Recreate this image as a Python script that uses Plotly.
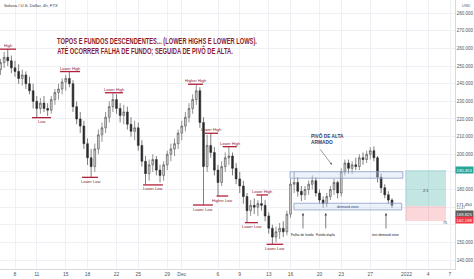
import plotly.graph_objects as go
import pandas as pd
from datetime import datetime, timedelta

# ---------------- data (12h candles, SOL/USD) ----------------
opens = [248,252,255,253,249,247,243,245,240,236, 230,226,229,226,225,231,235,237,241,243,
         240,227,220,216,206,198,193,203,211,215, 221,227,231,226,222,224,217,213,215,205,
         196,189,194,197,191,188,194,200,203,206, 212,216,221,226,231,236,218,193,205,201,
         191,184,193,198,199,192,186,182,176,168, 171,170,172,171,165,158,153,156,158,156,
         166,183,184,179,177,180,183,185,178,174, 172,176,180,184,178,190,195,192,194,193,
         198,197,200,202,198,187,181,177,174]
highs = [254,258,259.6,256,253,251,248,247,244,240, 233,232,233,229,233,237,240,243,245,247,
         242,230,224,219,209,203,206,214,218,224, 230,235,234,229,228,227,221,219,218,208,
         199,197,200,199,194,196,202,206,209,214, 219,224,229,234,239.7,238,221,211,211.9,204,
         194,196,201,204.3,201,195,190,185,178,174, 175,174,176.9,174,167,160,159,161,162,168,
         186,190,187,182,182,185,188,187,180,176, 178,182,186,185,192,197,197,196,198,200,
         201,202,204,204.5,199,189,183,179,175]
lows = [245,249,250,246,244,240,239,237,234,226, 220.7,223,224,221.7,223,228,231,234,236,238,
        224,217,212,203,194,187,190,200,207,212, 218,224,223,218,217,214,210,208,202,193,
        183,185,190,188,184,185,191,196,199,203, 208,213,218,223,228,215,171,190,198,188,
        176.3,182,190,194,188,183,178,172,161.2,165, 166,165,168,162,155,148.9,150,152,153,154,
        164,178,176,173.5,174,177,180,176,172,169.6, 170,174,177,175,176,188,189,189,191,191,
        194,195,197,196,184,178,175,172,169.5]
closes = [252,255,253,249,247,243,245,240,236,230, 226,229,226,225,231,235,237,241,243,240,
          227,220,216,206,198,193,203,211,215,221, 227,231,226,222,224,217,213,215,205,196,
          189,194,197,191,188,194,200,203,206,212, 216,221,226,231,236,218,193,205,201,191,
          184,193,198,199,192,186,182,176,168,171, 170,172,171,165,158,153,156,158,156,166,
          183,184,179,177,180,183,185,178,174,172, 176,180,184,178,190,195,192,194,193,198,
          197,200,202,198,187,181,177,174,171]
times = pd.date_range("2021-11-06 00:00", periods=len(closes), freq="12h")

tick_dates = ["2021-11-08","2021-11-11","2021-11-15","2021-11-18","2021-11-22","2021-11-25",
              "2021-11-29","2021-12-01","2021-12-06","2021-12-09","2021-12-13","2021-12-16",
              "2021-12-20","2021-12-23","2021-12-27","2022-01-01","2022-01-04","2022-01-07"]
tick_text = ["8","11","15","18","22","25","29","Dec","6","9","13","16","20","23","27","2022","4","7"]
price_ticks = list(range(140, 290, 10))
hidden_ticks = [160, 170, 190]   # covered by the price labels on the scale

# swing levels: label, start day, end day (days from 8 Nov), price, above?
lvl_label = ["High","Lower High","Low","Lower High","Lower Low","Lower Low","Higher High",
             "Lower High","Lower High","Lower Low","Higher Low","Lower Low","Lower High","Lower Low"]
lvl_d0 = [-2.1, 6.2, 2.34, 12.4, 9.24, 17.66, 23.86, 26.2, 28.65, 24.55, 27.8, 31.7, 33.3, 34.7]
lvl_d1 = [0.14, 8.97, 4.97, 14.9, 11.45, 20.4, 25.93, 28.0, 30.6, 27.3, 29.4, 33.5, 34.9, 37.0]
lvl_price = [259.6, 246.9, 220.75, 234.9, 186.9, 182.6, 239.7, 211.9, 204.3, 171.2, 176.3, 161.2, 176.9, 148.9]
lvl_up = [True, True, False, True, False, False, True, True, True, False, False, False, True, False]

# zones
pivot_zone = (37.93, 53.5, 186.4, 190.1)
demand_zone = (38.48, 53.34, 168.4, 172.2)
# position tool: start, end, target, entry, stop
pos_d0, pos_d1 = 53.8, 59.45
pos_target, pos_entry, pos_stop = 191.0, 170.6, 162.2

arrow_days = [39.72, 42.86, 51.17]
arrow_text = ["Falha de fundo", "Fundo duplo", "test demand zone"]

base = datetime(2021, 11, 8)
def D(d):
    return base + timedelta(days=d)

RED = "#b3203a"
TXT_RED = "#8c1b2b"
NAVY = "#2d3f73"
SANS = "Liberation Sans, Arial, sans-serif"

fig = go.Figure()
fig.add_trace(go.Candlestick(
    x=times, open=opens, high=highs, low=lows, close=closes,
    increasing=dict(line=dict(color="#4a4a4a", width=0.6), fillcolor="#d4d4d4"),
    decreasing=dict(line=dict(color="#2a2a2a", width=0.6), fillcolor="#2a2a2a"),
    whiskerwidth=0, hoverinfo="skip"))

shapes = []
annots = []

for lab, d0, d1, p, up in zip(lvl_label, lvl_d0, lvl_d1, lvl_price, lvl_up):
    shapes.append(dict(type="line", xref="x", yref="y", x0=D(d0), x1=D(d1), y0=p, y1=p,
                       line=dict(color=RED, width=1.3)))
    annots.append(dict(x=D((d0 + d1) / 2), y=p, xref="x", yref="y", text=lab, showarrow=False,
                       yshift=3.5 if up else -4, font=dict(size=4, color=TXT_RED, family=SANS)))

# zones
for (d0, d1, p0, p1) in [pivot_zone, demand_zone]:
    shapes.append(dict(type="rect", xref="x", yref="y", x0=D(d0), x1=D(d1), y0=p0, y1=p1,
                       fillcolor="rgba(200,215,240,0.35)", line=dict(color="#8da0c9", width=0.8)))
annots.append(dict(x=D((demand_zone[0] + demand_zone[1]) / 2), y=(demand_zone[2] + demand_zone[3]) / 2,
                   xref="x", yref="y", text="demand zone", showarrow=False,
                   font=dict(size=3.6, color=NAVY, family=SANS)))

# position tool
shapes.append(dict(type="rect", xref="x", yref="y", x0=D(pos_d0), x1=D(pos_d1), y0=pos_entry, y1=pos_target,
                   fillcolor="rgba(38,166,154,0.28)", line=dict(width=0)))
shapes.append(dict(type="rect", xref="x", yref="y", x0=D(pos_d0), x1=D(pos_d1), y0=pos_stop, y1=pos_entry,
                   fillcolor="rgba(242,54,69,0.2)", line=dict(width=0)))
annots.append(dict(x=D((pos_d0 + pos_d1) / 2), y=(pos_entry + pos_target) / 2 - 1.5, xref="x", yref="y",
                   text="2:1", showarrow=False, font=dict(size=4, color="#333", family=SANS)))
annots.append(dict(x=D(pos_d1 - 0.2), y=pos_stop, xref="x", yref="y", text="75", showarrow=False,
                   yshift=-2, font=dict(size=3.6, color="#333", family=SANS)))

# vertical arrows
for d, t in zip(arrow_days, arrow_text):
    annots.append(dict(x=D(d), y=166.7, xref="x", yref="y", ax=0, ay=17, text="", showarrow=True,
                       arrowhead=2, arrowsize=0.7, arrowwidth=0.7, arrowcolor="#444"))
    annots.append(dict(x=D(d), y=156.6, xref="x", yref="y", text=t, showarrow=False, yanchor="top",
                       font=dict(size=3.4, color="#222", family=SANS)))

# pivot text and arrow
annots.append(dict(x=D(40.6), y=214.0, xref="x", yref="y", xanchor="left", yanchor="top",
                   text="<b>PIVÔ DE ALTA</b>", showarrow=False,
                   font=dict(size=6.0, color=NAVY, family=SANS)))
annots.append(dict(x=D(40.6), y=209.6, xref="x", yref="y", xanchor="left", yanchor="top",
                   text="<b>ARMADO</b>", showarrow=False,
                   font=dict(size=6.0, color=NAVY, family=SANS)))
annots.append(dict(x=D(43.72), y=194.0, xref="x", yref="y", ax=-13, ay=-17, text="", showarrow=True,
                   arrowhead=2, arrowsize=0.7, arrowwidth=0.6, arrowcolor="#555"))

# main title text (two lines)
annots.append(dict(x=55 / 455, y=1 - 34 / 269, xref="paper", yref="paper", xanchor="left", yanchor="top",
                   showarrow=False, text="<b>TOPOS E FUNDOS DESCENDENTES... (LOWER HIGHS E LOWER LOWS).</b>",
                   font=dict(size=8.3, color=TXT_RED, family=SANS)))
annots.append(dict(x=55 / 455, y=1 - 43.3 / 269, xref="paper", yref="paper", xanchor="left", yanchor="top",
                   showarrow=False, text="<b>ATÉ OCORRER FALHA DE FUNDO; SEGUIDA DE PIVÔ DE ALTA.</b>",
                   font=dict(size=8.3, color=TXT_RED, family=SANS)))

# header
annots.append(dict(x=0.004, y=0.995, xref="paper", yref="paper", xanchor="left", yanchor="top",
                   text="Solana / U.S. Dollar, 4h, FTX", showarrow=False,
                   font=dict(size=4.2, color="#333", family=SANS)))
annots.append(dict(x=1.012, y=0.997, xref="paper", yref="paper", xanchor="left", yanchor="top",
                   text="USD", showarrow=False, font=dict(size=4, color="#555", family=SANS)))

# right price labels
def plabel(p, txt, bg, fc, size=4.2):
    annots.append(dict(x=1.0, y=p, xref="paper", yref="y", xanchor="left", text=txt, showarrow=False,
                       bgcolor=bg, borderpad=0.6, font=dict(size=size, color=fc, family=SANS)))

plabel(pos_target, "190.453", "#26a69a", "white")
plabel(172.0, "171.450", None, "#333")
plabel(169.6, "12.47", None, "#555", 3.4)
plabel(166.0, "169.825", "#5d5d5d", "white")
plabel(162.6, "162.198", "#f23645", "white")

tick_labels = ["" if v in hidden_ticks else f"{v:.3f}" for v in price_ticks]

fig.update_layout(
    width=474, height=279, margin=dict(l=0, r=19, t=0, b=10),
    paper_bgcolor="white", plot_bgcolor="white", showlegend=False,
    shapes=shapes, annotations=annots,
    xaxis=dict(type="date", range=[D(-2.07), D(60.69)], tickvals=tick_dates, ticktext=tick_text,
               showgrid=True, gridcolor="#eef0f5", gridwidth=0.6, zeroline=False,
               tickfont=dict(size=5, color="#555", family=SANS),
               showline=True, linecolor="#d6d9e0", linewidth=0.8, rangeslider=dict(visible=False)),
    yaxis=dict(side="right", range=[134.9, 287.5], tickvals=price_ticks, ticktext=tick_labels,
               showgrid=True, gridcolor="#eef0f5", gridwidth=0.6, zeroline=False,
               tickfont=dict(size=4.5, color="#555", family=SANS),
               showline=True, linecolor="#d6d9e0", linewidth=0.8),
)

# squeeze the hand-lettered (condensed) notes horizontally to their widths in the chart
squeeze_js = """
var gd = document.getElementById('{plot_id}');
var widths = {'TOPOS E': 200, 'ATÉ OCORRER': 176, 'PIVÔ DE ALTA': 33, 'ARMADO': 22};
function squeeze(){
  document.querySelectorAll('text.annotation-text').forEach(function(t){
    var s = t.textContent;
    for (var k in widths){
      if (s.indexOf(k) === 0){
        t.removeAttribute('transform');
        var bb = t.getBBox();
        var f = widths[k] / bb.width;
        t.setAttribute('transform', 'translate(' + (bb.x * (1 - f)) + ',0) scale(' + f + ',1)');
      }
    }
  });
}
squeeze();
if (gd && gd.on) { gd.on('plotly_afterplot', squeeze); }
"""

fig.write_html("out.html", post_script=squeeze_js)
